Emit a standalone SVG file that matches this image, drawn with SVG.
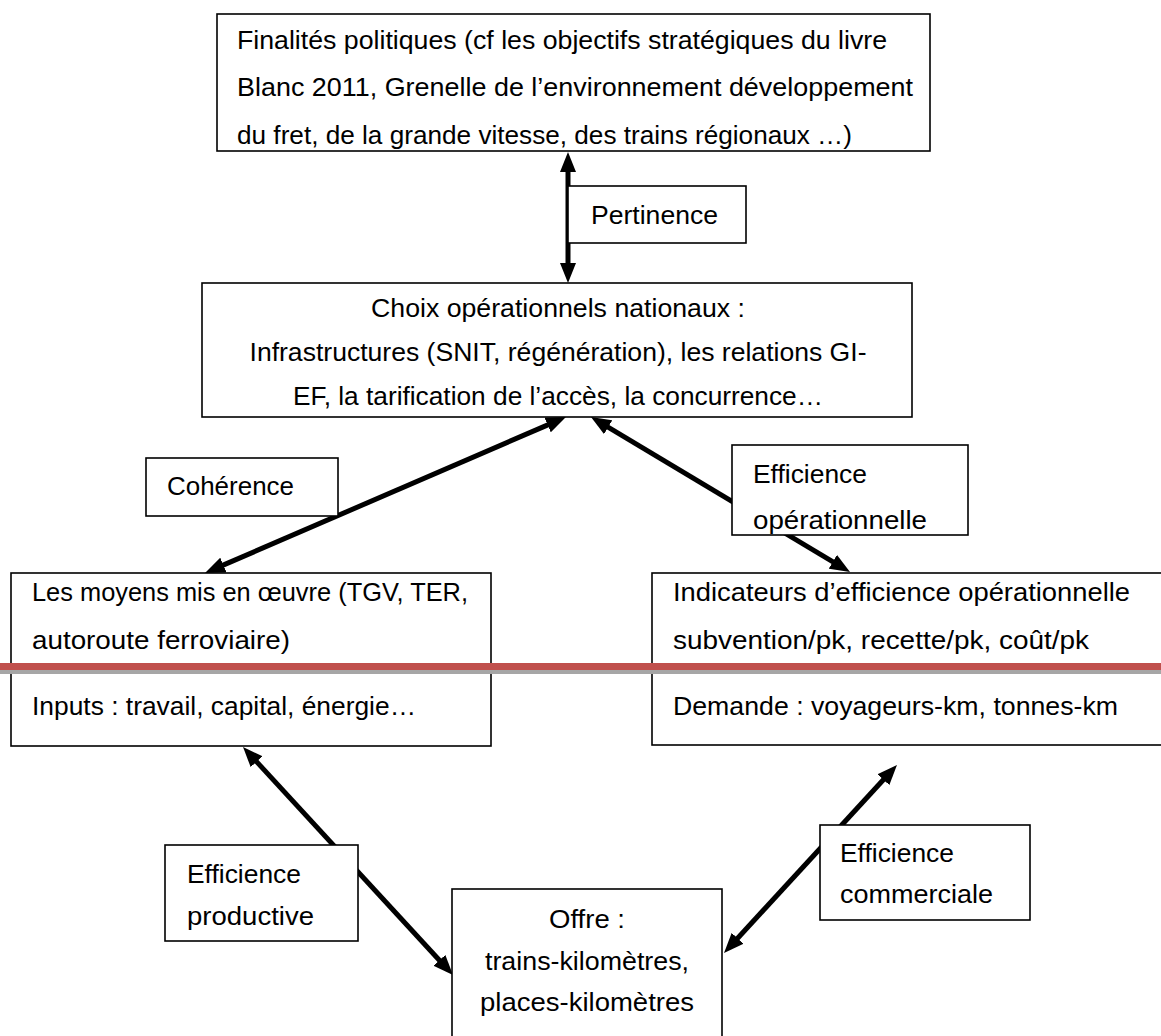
<svg xmlns="http://www.w3.org/2000/svg" width="1161" height="1036" viewBox="0 0 1161 1036">
<style>
.box{fill:#fff;stroke:#000;stroke-width:1.6}
.t{font-family:"Liberation Sans",Arial,sans-serif;font-size:26px;fill:#000}
.c{text-anchor:middle}
.arr{stroke:#000;stroke-width:5;fill:none;marker-start:url(#ah);marker-end:url(#ah)}
</style>
<defs>
<marker id="ah" markerUnits="userSpaceOnUse" markerWidth="20" markerHeight="16" viewBox="0 0 20 16" refX="6" refY="8" orient="auto-start-reverse"><path d="M0,0 L20,8 L0,16 Z" fill="#000"/></marker>
<clipPath id="clipTop"><rect x="217" y="14" width="713" height="137"/></clipPath>
<clipPath id="clipEop"><rect x="732" y="445" width="236" height="90"/></clipPath>
</defs>
<rect width="1161" height="1036" fill="#fff"/>
<g id="connectors">
<line class="arr" x1="568" y1="166" x2="568" y2="269"/>
<line class="arr" x1="553.1" y1="422.6" x2="217.9" y2="567.4"/>
<line class="arr" x1="603" y1="424.2" x2="838" y2="564.8"/>
<line class="arr" x1="252.5" y1="757.3" x2="443.5" y2="964.7"/>
<line class="arr" x1="733.5" y1="942.7" x2="887.5" y2="775.3"/>
</g>
<g id="finalites">
<rect class="box" x="217" y="14" width="713" height="137"/>
<g clip-path="url(#clipTop)">
<text class="t" x="237" y="49" textLength="650" lengthAdjust="spacingAndGlyphs">Finalités politiques (cf les objectifs stratégiques du livre</text>
<text class="t" x="237" y="96" textLength="676" lengthAdjust="spacingAndGlyphs">Blanc 2011, Grenelle de l’environnement développement</text>
<text class="t" x="237" y="144" textLength="615" lengthAdjust="spacingAndGlyphs">du fret, de la grande vitesse, des trains régionaux …)</text>
</g>
</g>
<g id="pertinence">
<rect class="box" x="568" y="186" width="178" height="57"/>
<text class="t" x="591" y="224" textLength="127" lengthAdjust="spacingAndGlyphs">Pertinence</text>
</g>
<g id="choix">
<rect class="box" x="202" y="283" width="710" height="134"/>
<text class="t c" x="558" y="317" textLength="374" lengthAdjust="spacingAndGlyphs">Choix opérationnels nationaux :</text>
<text class="t c" x="558" y="361" textLength="617" lengthAdjust="spacingAndGlyphs">Infrastructures (SNIT, régénération), les relations GI-</text>
<text class="t c" x="558" y="405" textLength="530" lengthAdjust="spacingAndGlyphs">EF, la tarification de l’accès, la concurrence…</text>
</g>
<g id="coherence">
<rect class="box" x="146" y="458" width="192" height="58"/>
<text class="t" x="167" y="495" textLength="127" lengthAdjust="spacingAndGlyphs">Cohérence</text>
</g>
<g id="efficience-operationnelle">
<rect class="box" x="732" y="445" width="236" height="90"/>
<g clip-path="url(#clipEop)">
<text class="t" x="753" y="483" textLength="114" lengthAdjust="spacingAndGlyphs">Efficience</text>
<text class="t" x="753" y="529" textLength="174" lengthAdjust="spacingAndGlyphs">opérationnelle</text>
</g>
</g>
<g id="moyens">
<rect class="box" x="11" y="573" width="480" height="173"/>
<text class="t" x="32" y="601" textLength="436" lengthAdjust="spacingAndGlyphs">Les moyens mis en œuvre (TGV, TER,</text>
<text class="t" x="32" y="649" textLength="258" lengthAdjust="spacingAndGlyphs">autoroute ferroviaire)</text>
<text class="t" x="32" y="715" textLength="384" lengthAdjust="spacingAndGlyphs">Inputs : travail, capital, énergie…</text>
</g>
<g id="indicateurs">
<rect class="box" x="652" y="573" width="530" height="172"/>
<text class="t" x="673" y="601" textLength="457" lengthAdjust="spacingAndGlyphs">Indicateurs d’efficience opérationnelle</text>
<text class="t" x="673" y="649" textLength="416" lengthAdjust="spacingAndGlyphs">subvention/pk, recette/pk, coût/pk</text>
<text class="t" x="673" y="715" textLength="445" lengthAdjust="spacingAndGlyphs">Demande : voyageurs-km, tonnes-km</text>
</g>
<g id="separator">
<rect x="0" y="663" width="1161" height="7" fill="#c0504d"/>
<rect x="0" y="670" width="1161" height="4" fill="#a6a6a6"/>
</g>
<g id="efficience-productive">
<rect class="box" x="165" y="845" width="193" height="96"/>
<text class="t" x="187" y="883" textLength="114" lengthAdjust="spacingAndGlyphs">Efficience</text>
<text class="t" x="187" y="925" textLength="127" lengthAdjust="spacingAndGlyphs">productive</text>
</g>
<g id="efficience-commerciale">
<rect class="box" x="820" y="825" width="210" height="95"/>
<text class="t" x="840" y="862" textLength="114" lengthAdjust="spacingAndGlyphs">Efficience</text>
<text class="t" x="840" y="903" textLength="153" lengthAdjust="spacingAndGlyphs">commerciale</text>
</g>
<g id="offre">
<rect class="box" x="452" y="889" width="270" height="160"/>
<text class="t c" x="587" y="928" textLength="76" lengthAdjust="spacingAndGlyphs">Offre :</text>
<text class="t c" x="587" y="970" textLength="204" lengthAdjust="spacingAndGlyphs">trains-kilomètres,</text>
<text class="t c" x="587" y="1011" textLength="214" lengthAdjust="spacingAndGlyphs">places-kilomètres</text>
</g>
</svg>
